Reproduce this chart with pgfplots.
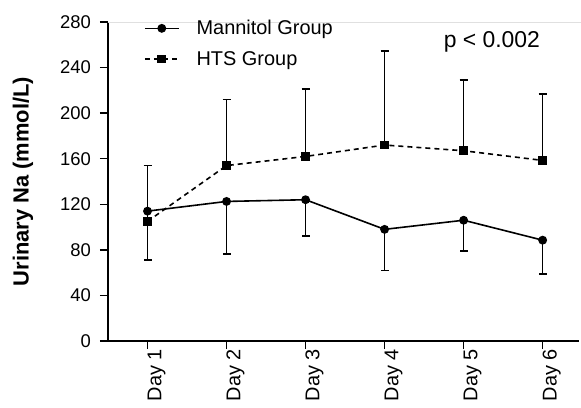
\documentclass[border=0pt]{standalone}
\usepackage{pgfplots}
\usepackage{fontspec}
\setmainfont{Liberation Sans}
\pgfplotsset{compat=1.18}

\pgfplotstableread{
x y err
1 114   43
2 122.5 46
3 124   32
4 98    36
5 106   27
6 88.5  29.5
}\mannitol

\pgfplotstableread{
x y err
1 105   49
2 154   58
3 162   59
4 172   82.5
5 167   62
6 158.5 58.5
}\hts

\begin{document}
\begin{tikzpicture}
\begin{axis}[
    scale only axis,
    width=471bp, height=319bp,
    xmin=0.5, xmax=6.46,
    ymin=0, ymax=280,
    axis lines*=left,
    axis line style={line width=1.5bp},
    tick align=outside,
    major tick length=8bp,
    tick style={line width=1.5bp, black},
    xtick={1,2,3,4,5,6},
    xticklabels={Day 1,Day 2,Day 3,Day 4,Day 5,Day 6},
    x tick label style={rotate=90, anchor=east, inner sep=0bp, xshift=0bp, yshift=-9bp,
        font=\fontsize{20}{22}\selectfont},
    ytick={0,40,...,280},
    y tick label style={inner sep=0bp, xshift=-9bp, font=\fontsize{18.5}{20}\selectfont},
    /pgf/number format/assume math mode=true,
    ylabel={Urinary Na (mmol/L)},
    every axis y label/.style={at={(axis description cs:-0.1805,0.5)}, rotate=90, anchor=center,
        font=\fontsize{22}{24}\selectfont\bfseries},
    legend style={draw=none, fill=none, inner sep=0pt, at={(axis description cs:0.076,1.012)},
        anchor=north west, font=\fontsize{20}{22}\selectfont, row sep=11bp,
        /tikz/every odd column/.append style={column sep=15bp}},
    legend cell align=left,
    legend image code/.code={
        \draw[#1, mark repeat=2, mark phase=2] plot coordinates {(0bp,0bp) (17bp,0bp) (34bp,0bp)};
    },
    clip=false,
]
\addplot[black, line width=1.6bp, mark=*, mark size=3.6bp,
    error bars/.cd, y dir=minus, y explicit,
    error mark=-,
    error bar style={line width=1.6bp, black, solid},
    error mark options={rotate=90, mark size=4bp, line width=1.6bp, black, solid}]
    table[x=x, y=y, y error=err] {\mannitol};
\addlegendentry{Mannitol Group}
\addplot[black, line width=1.6bp, dash pattern=on 5bp off 4bp, mark=square*, mark size=3.6bp,
    mark options={solid},
    error bars/.cd, y dir=plus, y explicit,
    error mark=-,
    error bar style={line width=1.6bp, black, solid},
    error mark options={rotate=90, mark size=4bp, line width=1.6bp, black, solid}]
    table[x=x, y=y, y error=err] {\hts};
\addlegendentry{HTS Group}
\draw[black!12, line width=0.8bp] (rel axis cs:0,1) -- (rel axis cs:1.005,1);
\node[font=\fontsize{23}{25}\selectfont] at (axis description cs:0.815,0.937) {p < 0.002};
\end{axis}
\pgfresetboundingbox
\path[use as bounding box] (current axis.south west) ++(-108bp,-67bp) rectangle ([shift={(2bp,22bp)}]current axis.north east);
\end{tikzpicture}
\end{document}
